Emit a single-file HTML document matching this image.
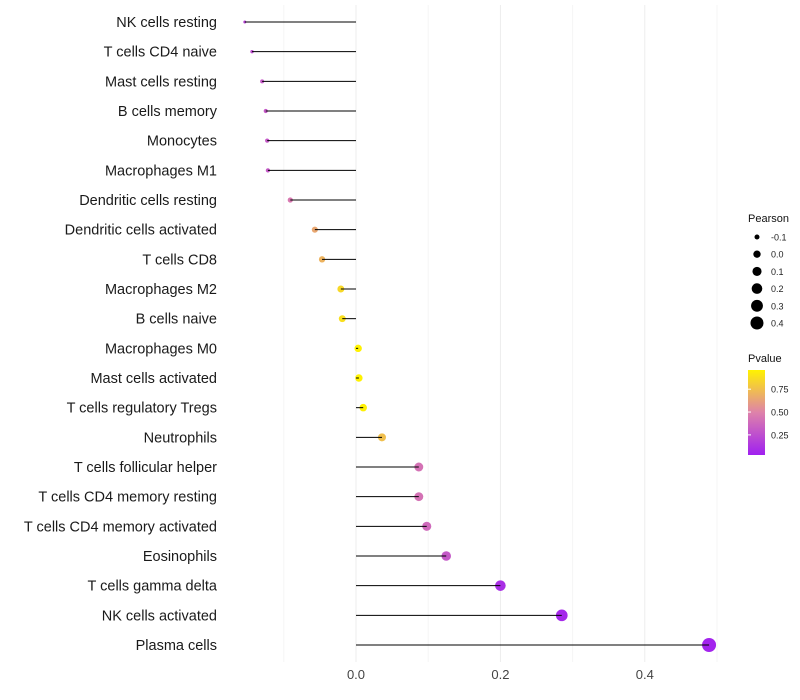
<!DOCTYPE html>
<html><head><meta charset="utf-8"><style>
body{margin:0;background:#fff;font-family:"Liberation Sans",sans-serif}
svg{display:block}
</style></head><body>
<svg id="chart" width="800" height="700" xmlns="http://www.w3.org/2000/svg">
<g id="grid"></g>
<g id="dots"></g>
<g id="marks"></g>
<g id="ylabels"></g>
<g id="xlabels"></g>
<g id="legend"></g>
</svg>
<script>
const categories=["NK cells resting","T cells CD4 naive","Mast cells resting","B cells memory","Monocytes","Macrophages M1","Dendritic cells resting","Dendritic cells activated","T cells CD8","Macrophages M2","B cells naive","Macrophages M0","Mast cells activated","T cells regulatory  Tregs","Neutrophils","T cells follicular helper","T cells CD4 memory resting","T cells CD4 memory activated","Eosinophils","T cells gamma delta","NK cells activated","Plasma cells"];
const pearson=[-0.154,-0.144,-0.130,-0.125,-0.123,-0.122,-0.091,-0.057,-0.047,-0.021,-0.019,0.003,0.004,0.010,0.036,0.087,0.087,0.098,0.125,0.200,0.285,0.489];
const pvalue=[0.20,0.25,0.30,0.30,0.30,0.30,0.45,0.65,0.70,0.85,0.88,0.98,0.97,0.95,0.75,0.42,0.42,0.38,0.30,0.10,0.07,0.05];
const xTicks=[0.0,0.2,0.4];
const sizeLegend=[-0.1,0.0,0.1,0.2,0.3,0.4];
const pTicks=[0.25,0.50,0.75];
const NS="http://www.w3.org/2000/svg";
const X=v=>356+v*722;
const Y=i=>22+i*(623/21);
const pmin=Math.min(...pearson),pmax=Math.max(...pearson);
const R=v=>Math.sqrt(Math.max(0.5,2.25+(v-pmin)/(pmax-pmin)*46.75));
function col(p){const t=Math.max(0,Math.min(1,(p-0.03)/(0.96-0.03)));
 const a=[160,32,240],b=[255,242,0];
 const m=[222,130,170];let c;
 if(t<0.5){const s=t/0.5;c=a.map((x,k)=>Math.round(x+(m[k]-x)*s));}
 else{const s=(t-0.5)/0.5;c=m.map((x,k)=>Math.round(x+(b[k]-x)*s));}
 return `rgb(${c})`;}
function mk(tag,at,parent,txt){const e=document.createElementNS(NS,tag);for(const k in at)e.setAttribute(k,at[k]);if(txt!==undefined)e.textContent=txt;document.getElementById(parent).appendChild(e);return e;}
[-0.1,0.1,0.3,0.5].forEach(v=>{const e=mk("line",{x1:X(v),x2:X(v),y1:5,y2:662,stroke:"#f5f5f5","stroke-width":1},"grid");

});
xTicks.forEach(v=>{const e=mk("line",{x1:X(v),x2:X(v),y1:5,y2:662,stroke:"#ededed","stroke-width":1},"grid");


const t=mk("text",{x:X(v),y:679,"text-anchor":"middle","font-size":13,fill:"#444"},"xlabels",v.toFixed(1));

});
categories.forEach((c,i)=>{const y=Y(i);
const d=mk("circle",{cx:X(pearson[i]),cy:y,r:R(pearson[i]),fill:col(pvalue[i])},"dots");


const l=mk("line",{x1:X(0),x2:X(pearson[i]),y1:y,y2:y,stroke:"#000","stroke-width":1},"marks");


const t=mk("text",{x:217,y:y+5,"text-anchor":"end","font-size":14.5,fill:"#1a1a1a","xml:space":"preserve"},"ylabels",c);

});
let e=mk("text",{x:748,y:222,"font-size":11,fill:"#111"},"legend","Pearson");


sizeLegend.forEach((v,k)=>{const y=237+k*17.2;
const c=mk("circle",{cx:757,cy:y,r:R(v),fill:"#000"},"legend");


const t=mk("text",{x:771,y:y+3.5,"font-size":9,fill:"#222"},"legend",v.toFixed(1));

});
e=mk("text",{x:748,y:362,"font-size":11,fill:"#111"},"legend","Pvalue");


const defs=mk("defs",{},"legend");
const g=document.createElementNS(NS,"linearGradient");g.setAttribute("id","pg");g.setAttribute("x1","0");g.setAttribute("y1","1");g.setAttribute("x2","0");g.setAttribute("y2","0");defs.appendChild(g);
[0,0.25,0.5,0.75,1].forEach(s=>{const st=document.createElementNS(NS,"stop");st.setAttribute("offset",s);st.setAttribute("stop-color",col(0.03+s*0.93));g.appendChild(st);});
e=mk("rect",{x:748,y:370,width:17,height:85,fill:"url(#pg)"},"legend");


pTicks.forEach(p=>{const y=455-(p-0.03)/(0.93)*85;
const l=mk("line",{x1:748,x2:751,y1:y,y2:y,stroke:"#fff"},"legend");


const t=mk("text",{x:771,y:y+3.5,"font-size":9,fill:"#222"},"legend",p.toFixed(2));

});
</script>
</body></html>
